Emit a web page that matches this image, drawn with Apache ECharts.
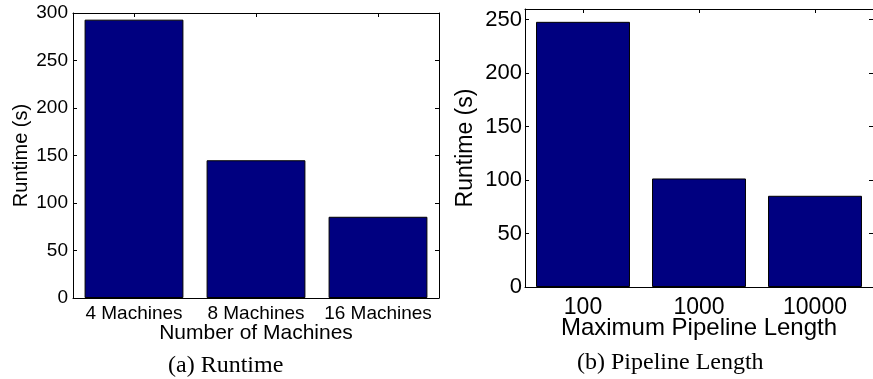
<!DOCTYPE html>
<html>
<head>
<meta charset="utf-8">
<script src="https://cdn.jsdelivr.net/npm/echarts@6/dist/echarts.min.js"></script>
<style>html,body{margin:0;padding:0;background:#fff}#c{width:873px;height:379px}</style>
</head>
<body>
<div id="c"></div>
<script>
const catsA = ['4 Machines', '8 Machines', '16 Machines'];
const valsA = [293, 145, 85.5];
const catsB = ['100', '1000', '10000'];
const valsB = [248, 101.5, 85.3];
const yMaxA = 300, yMaxB = 260, yStep = 50;

const SANS = 'Liberation Sans, Arial, Helvetica, sans-serif';
const SERIF = 'Liberation Serif, Times New Roman, serif';
const line = { show: true, onZero: false, lineStyle: { color: '#000', width: 1 } };
const tick = { show: true, inside: true, length: 4, lineStyle: { color: '#000' } };

function xAxes(gi, cats, fs, nfs, labMargin, name, nameGap) {
  return [
    { type: 'category', gridIndex: gi, data: cats, position: 'bottom',
      axisLine: line, axisTick: Object.assign({ alignWithLabel: true }, tick),
      axisLabel: { color: '#000', fontSize: fs, fontFamily: SANS, margin: labMargin, interval: 0 },
      name: name, nameLocation: 'middle', nameGap: nameGap, nameMoveOverlap: false,
      nameTextStyle: { color: '#000', fontSize: nfs, fontFamily: SANS } },
    { type: 'category', gridIndex: gi, data: cats, position: 'top',
      axisLine: line, axisTick: Object.assign({ alignWithLabel: true }, tick),
      axisLabel: { show: false } }
  ];
}
function yAxes(gi, max, fs, nfs, labMargin, nameGap) {
  return [
    { type: 'value', gridIndex: gi, min: 0, max: max, interval: yStep, position: 'left',
      axisLine: line, splitLine: { show: false }, axisTick: tick,
      axisLabel: { color: '#000', fontSize: fs, fontFamily: SANS, margin: labMargin,
        formatter: v => (v % yStep === 0 ? String(v) : '') },
      name: 'Runtime (s)', nameLocation: 'middle', nameGap: nameGap, nameMoveOverlap: false,
      nameTextStyle: { color: '#000', fontSize: nfs, fontFamily: SANS } },
    { type: 'value', gridIndex: gi, min: 0, max: max, interval: yStep, position: 'right',
      axisLine: line, splitLine: { show: false }, axisTick: tick,
      axisLabel: { show: false } }
  ];
}

const chart = echarts.init(document.getElementById('c'), null, { renderer: 'canvas' });
chart.setOption({
  animation: false,
  backgroundColor: '#fff',
  grid: [
    { left: 73, top: 13, width: 366, height: 285 },
    { left: 525, top: 9, width: 357, height: 278 }
  ],
  xAxis: [].concat(
    xAxes(0, catsA, 19, 21, 6, 'Number of Machines', 25),
    xAxes(1, catsB, 23, 24, 9, 'Maximum Pipeline Length', 29)
  ),
  yAxis: [].concat(
    yAxes(0, yMaxA, 19, 20, 5, 42),
    yAxes(1, yMaxB, 22, 23, 3, 48)
  ),
  series: [
    { type: 'bar', xAxisIndex: 0, yAxisIndex: 0, data: valsA, barCategoryGap: '19%',
      itemStyle: { color: '#000080', borderColor: '#000', borderWidth: 1 } },
    { type: 'bar', xAxisIndex: 2, yAxisIndex: 2, data: valsB, barCategoryGap: '19%',
      itemStyle: { color: '#000080', borderColor: '#000', borderWidth: 1 } }
  ],
  graphic: [
    { type: 'text', left: 168, top: 354, style: { text: '(a) Runtime', fill: '#000', font: '24px ' + SERIF } },
    { type: 'text', left: 577, top: 351, style: { text: '(b) Pipeline Length', fill: '#000', font: '24px ' + SERIF } }
  ]
});
</script>
</body>
</html>
